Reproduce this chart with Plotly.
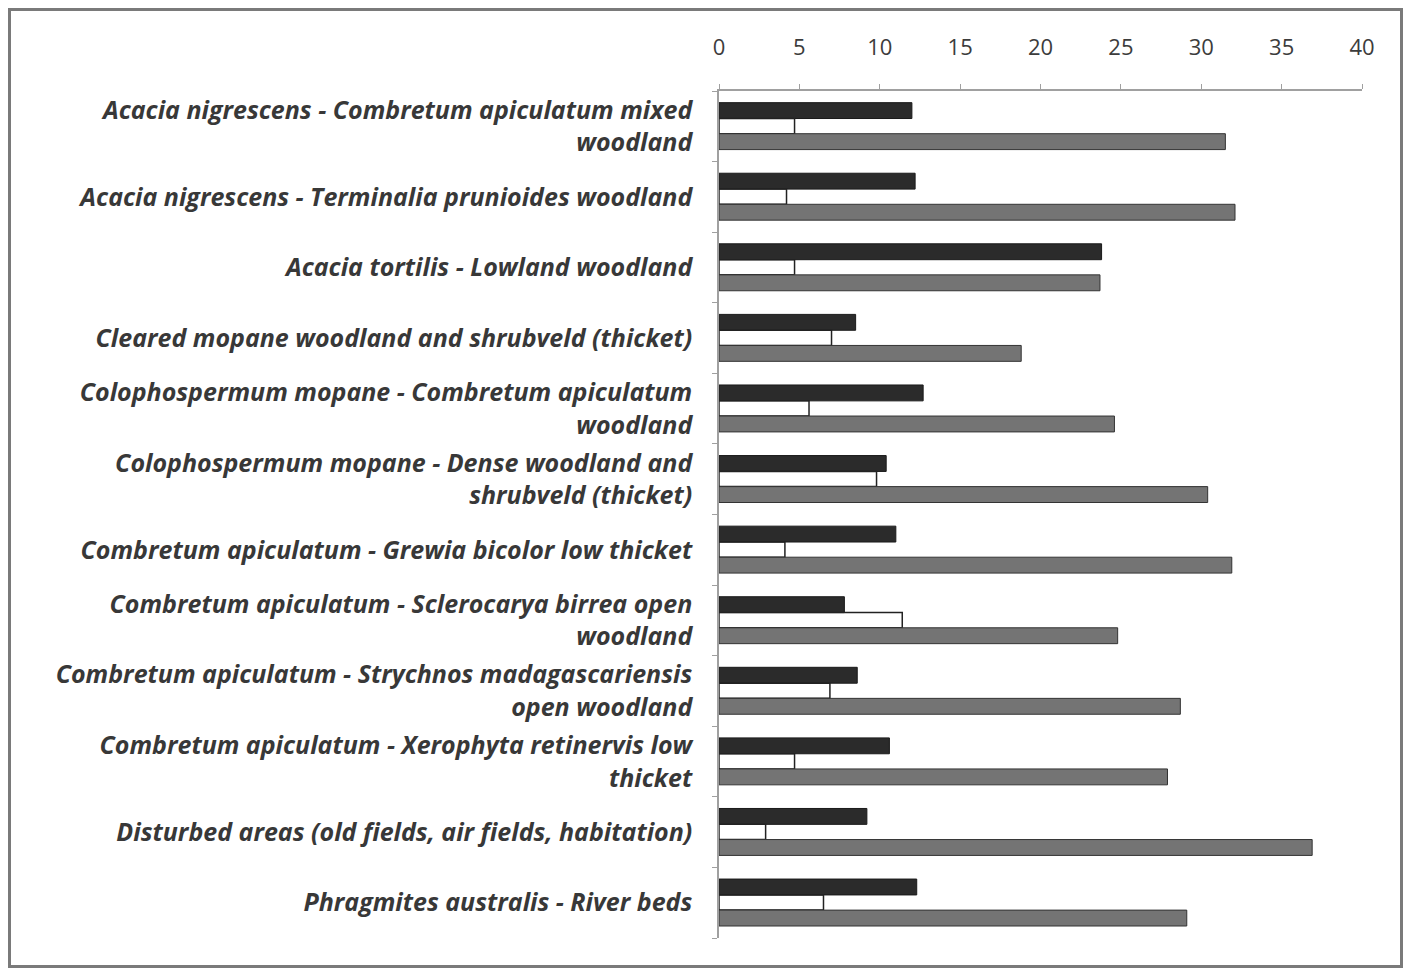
import plotly.graph_objects as go

categories = [
    "Acacia nigrescens - Combretum apiculatum mixed<br>woodland",
    "Acacia nigrescens - Terminalia prunioides woodland",
    "Acacia tortilis - Lowland woodland",
    "Cleared mopane woodland and shrubveld (thicket)",
    "Colophospermum mopane - Combretum apiculatum<br>woodland",
    "Colophospermum mopane - Dense woodland and<br>shrubveld (thicket)",
    "Combretum apiculatum - Grewia bicolor low thicket",
    "Combretum apiculatum - Sclerocarya birrea open<br>woodland",
    "Combretum apiculatum - Strychnos madagascariensis<br>open woodland",
    "Combretum apiculatum - Xerophyta retinervis low<br>thicket",
    "Disturbed areas (old fields, air fields, habitation)",
    "Phragmites australis - River beds",
]
series_dark = [12.0, 12.2, 23.8, 8.5, 12.7, 10.4, 11.0, 7.8, 8.6, 10.6, 9.2, 12.3]
series_mid = [4.7, 4.2, 4.7, 7.0, 5.6, 9.8, 4.1, 11.4, 6.9, 4.7, 2.9, 6.5]
series_gray = [31.5, 32.1, 23.7, 18.8, 24.6, 30.4, 31.9, 24.8, 28.7, 27.9, 36.9, 29.1]
x_ticks = [0, 5, 10, 15, 20, 25, 30, 35, 40]

pos = list(range(len(categories)))

W, H = 1396, 961
L, R, T, B = 711, W - 1354, 83, 31
pw, ph = W - L - R, H - T - B

fig = go.Figure()
fig.add_trace(go.Bar(
    y=pos, x=series_dark, orientation="h", offset=-0.335, width=0.225,
    marker=dict(color="#2b2b2b", line=dict(color="#1a1a1a", width=1)),
    showlegend=False,
))
fig.add_trace(go.Bar(
    y=pos, x=series_mid, orientation="h", offset=-0.11, width=0.215,
    marker=dict(color="rgba(255,255,255,0)", line=dict(color="#222222", width=1.5)),
    showlegend=False,
))
fig.add_trace(go.Bar(
    y=pos, x=series_gray, orientation="h", offset=0.105, width=0.225,
    marker=dict(color="#747474", line=dict(color="#333333", width=1)),
    showlegend=False,
))

fig.update_layout(
    width=W, height=H,
    barmode="overlay",
    paper_bgcolor="white", plot_bgcolor="white",
    margin=dict(l=L, r=R, t=T, b=B, pad=0),
    font=dict(family="Open Sans", color="#3c3c3c"),
    xaxis=dict(
        side="top", range=[0, 40], tickvals=x_ticks,
        ticktext=[str(v) for v in x_ticks],
        showgrid=False, zeroline=False,
        showline=True, linecolor="#a0a0a0", linewidth=1.5,
        ticks="outside", ticklen=5, tickcolor="#a0a0a0",
        tickfont=dict(family="Open Sans", size=22, color="#3c3c3c"),
        ticklabelstandoff=20,
    ),
    yaxis=dict(
        range=[11.5, -0.5], tickvals=pos,
        ticktext=["<i>" + c.replace("<br>", "</i><br><i>") + "</i>" for c in categories],
        showgrid=False, zeroline=False,
        showline=True, linecolor="#a0a0a0", linewidth=1.5,
        ticks="", tickfont=dict(family="Open Sans", size=25, color="#383838", weight=700),
        ticklabelstandoff=20,
        minor=dict(tick0=0.5, dtick=1, ticks="outside", ticklen=5, tickcolor="#a0a0a0"),
    ),
    shapes=[dict(
        type="rect", xref="paper", yref="paper",
        x0=(1.5 - L) / pw, x1=(W - 2.5 - L) / pw,
        y0=-(B - 2.5) / ph, y1=1 + (T - 1.5) / ph,
        line=dict(color="#7a7a7a", width=3), fillcolor="rgba(0,0,0,0)",
        layer="below",
    )],
)

fig.write_html("out.html")
